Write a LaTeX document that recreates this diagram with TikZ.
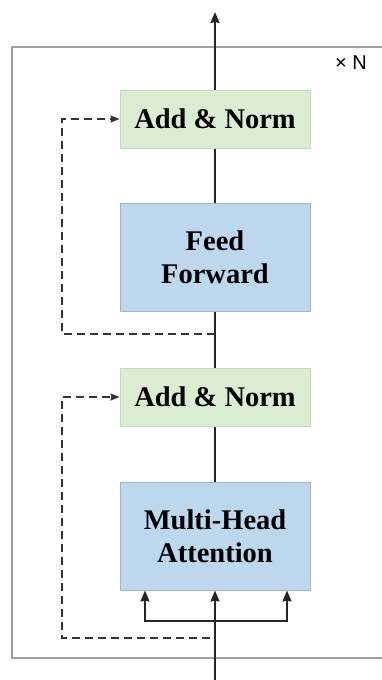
\documentclass[tikz,border=0pt]{standalone}
\usepackage{fontspec}
\setmainfont{Liberation Serif}
\newfontfamily\sansN{Liberation Sans}
\usetikzlibrary{arrows.meta, calc}
\definecolor{normfill}{RGB}{218,236,210}
\definecolor{normdraw}{RGB}{195,222,180}
\definecolor{blockfill}{RGB}{189,215,238}
\definecolor{blockdraw}{RGB}{165,180,195}
\definecolor{framegray}{RGB}{160,160,160}

\begin{document}
\begin{tikzpicture}[x=1pt, y=-1pt,
    normbox/.style={fill=normfill, draw=normdraw, line width=1pt, minimum width=190pt, minimum height=58pt, font=\fontsize{28.5}{33}\selectfont\bfseries},
    blockbox/.style={fill=blockfill, draw=blockdraw, line width=1pt, minimum width=190pt, minimum height=108pt, align=center, font=\fontsize{28.5}{33}\selectfont\bfseries},
    flow/.style={line width=1.8pt, black!85},
    res/.style={line width=1.7pt, black!80, dash pattern=on 8pt off 5pt},
    tip/.style={-{Stealth[length=11pt, width=9pt, inset=1pt]}},
    smalltip/.style={-{Stealth[length=9pt, width=7pt, inset=1pt]}}]
                        \useasboundingbox (0,0) rectangle (382,680);
                        % outer frame
                        \draw[framegray, line width=2.6pt] (12,47) rectangle (384,658);
                        \node[font=\sansN\fontsize{20}{22}\selectfont] (rep) at (351,63) {× N};
                        % blocks
                        \node[blockbox] (mha) at (215,536) {Multi-Head\\Attention};
                        \node[normbox] (norma) at (215,397) {Add \& Norm};
                        \node[blockbox] (ff) at (215,257.5) {Feed\\Forward};
                        \node[normbox] (normb) at (215,119) {Add \& Norm};
                        \coordinate (in) at (215,680);
                        \coordinate (out) at (215,12);
                        \coordinate (split) at (215,621);
                        \coordinate (resa) at (210,638);
                        \coordinate (resb) at (215,334);
                        % main path
                        \draw[flow, tip] (in) -- (mha.south);
                        \draw[flow] (mha.north) -- (norma.south);
                        \draw[flow] (norma.north) -- (ff.south);
                        \draw[flow] (ff.north) -- (normb.south);
                        \draw[flow, tip] (normb.north) -- (out);
                        % q, k, v
                        \draw[flow, tip] (split) -| ($(mha.south)+(-70,0)$);
                        \draw[flow, tip] (split) -| ($(mha.south)+(72,0)$);
                        % residuals
                        \draw[res, smalltip] (resa) -| (62,397) -- (norma.west);
                        \draw[res, smalltip] (resb) -| (62,119) -- (normb.west);
                    \end{tikzpicture}
\end{document}
